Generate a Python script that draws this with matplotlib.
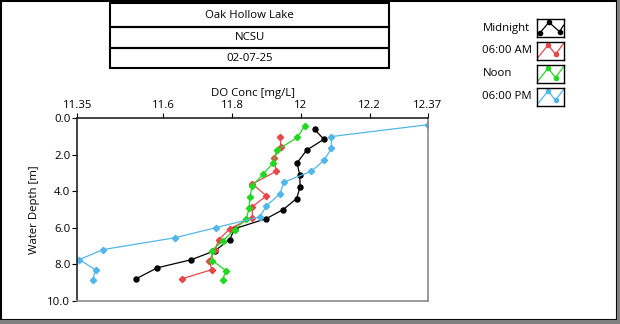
import matplotlib.pyplot as plt
from matplotlib.patches import Rectangle
from matplotlib.lines import Line2D

plt.rcParams['font.family'] = ['Open Sans', 'DejaVu Sans']

# dissolved oxygen profiles, depth in m and DO in mg/L
midnight_depth = [0.6, 1.15, 1.75, 2.45, 3.1, 3.75, 4.4, 5.0, 5.5, 6.05, 6.65, 7.25, 7.75, 8.2, 8.8]
midnight_do = [12.04, 12.067, 12.017, 11.989, 11.997, 11.998, 11.988, 11.949, 11.90, 11.808, 11.793, 11.751, 11.682, 11.582, 11.521]

am_depth = [1.0, 1.6, 2.2, 2.9, 3.6, 4.25, 4.85, 5.45, 6.05, 6.65, 7.2, 7.8, 8.3, 8.8]
am_do = [11.94, 11.942, 11.921, 11.929, 11.859, 11.90, 11.859, 11.859, 11.794, 11.762, 11.75, 11.734, 11.741, 11.654]

noon_depth = [0.4, 1.05, 1.75, 2.45, 3.05, 3.7, 4.3, 4.9, 5.5, 6.1, 6.7, 7.25, 7.8, 8.35, 8.85]
noon_do = [12.012, 11.99, 11.93, 11.92, 11.891, 11.859, 11.852, 11.85, 11.842, 11.808, 11.774, 11.742, 11.743, 11.782, 11.773]

pm_depth = [0.35, 1.0, 1.65, 2.3, 2.9, 3.5, 4.15, 4.8, 5.4, 6.0, 6.55, 7.2, 7.75, 8.3, 8.85]
pm_do = [12.37, 12.089, 12.089, 12.068, 12.031, 11.951, 11.939, 11.90, 11.881, 11.752, 11.634, 11.424, 11.356, 11.403, 11.395]

series_names = ['Midnight', '06:00 AM', 'Noon', '06:00 PM']
series_colors = ['black', '#e8474a', '#22d822', '#52b7e8']
series_markers = ['o', 'D', 'D', 'D']

x_ticks = [11.35, 11.6, 11.8, 12, 12.2, 12.37]
x_tick_labels = ['11.35', '11.6', '11.8', '12', '12.2', '12.37']
y_ticks = [0, 2, 4, 6, 8, 10]

title_rows = ['Oak Hollow Lake', 'NCSU', '02-07-25']

FS = 8.2
W, H = 620, 324
fig = plt.figure(figsize=(6.2, 3.24), dpi=100)


def fx(px):
    return px / W


def fy(py):
    return 1 - py / H


# sunken panel border
fig.add_artist(Line2D([fx(0.5), fx(0.5)], [0, 1], color='black', lw=1.5))
fig.add_artist(Line2D([0, 1], [fy(0.5), fy(0.5)], color='black', lw=1.5))
fig.add_artist(Line2D([fx(616), fx(616)], [fy(319), 1], color='black', lw=0.8))
fig.add_artist(Line2D([fx(0), fx(616)], [fy(319), fy(319)], color='black', lw=0.8))
fig.add_artist(Line2D([fx(618.5), fx(618.5)], [0, 1], color='#808080', lw=3))
fig.add_artist(Line2D([0, 1], [fy(322), fy(322)], color='#808080', lw=3))

# title boxes
row_edges = [3.3, 26.7, 48.3, 68.3]
for i, txt in enumerate(title_rows):
    top, bot = row_edges[i], row_edges[i + 1]
    fig.add_artist(Rectangle((fx(109.5), fy(bot)), fx(389.5) - fx(109.5), fy(top) - fy(bot),
                             fill=False, ec='black', lw=1.5))
    fig.text(fx(249.5), fy((top + bot) / 2), txt, ha='center', va='center', fontsize=FS)

# main plot
ax = fig.add_axes([fx(77.3), fy(300.7), fx(428) - fx(77.3), fy(118.3) - fy(300.7)])
profiles = [(midnight_do, midnight_depth), (am_do, am_depth), (noon_do, noon_depth), (pm_do, pm_depth)]
for (xs, ys), c, m in zip(profiles, series_colors, series_markers):
    ax.plot(xs, ys, color=c, lw=0.9, marker=m, ms=3.6 if m == 'o' else 3.2, mec=c, mfc=c)

ax.set_xlim(11.35, 12.37)
ax.set_ylim(10, 0)
ax.xaxis.tick_top()
ax.xaxis.set_label_position('top')
ax.set_xticks(x_ticks)
ax.set_xticklabels(x_tick_labels)
ax.set_yticks(y_ticks)
ax.set_yticklabels([f'{v:.1f}' for v in y_ticks])
ax.tick_params(labelsize=FS, length=3.5, width=0.8, pad=1.5)
ax.set_xlabel('DO Conc [mg/L]', fontsize=FS, labelpad=3)
ax.set_ylabel('Water Depth [m]', fontsize=FS, labelpad=5)
ax.spines['top'].set_color('#222222')
ax.spines['left'].set_color('#222222')
ax.spines['right'].set_color('#8a8a8a')
ax.spines['bottom'].set_color('#8a8a8a')
for s in ax.spines.values():
    s.set_linewidth(1.2)

# legend with small icon boxes
icon_tops = [19, 41.7, 65, 87.7]
for name, c, m, top in zip(series_names, series_colors, series_markers, icon_tops):
    bot = top + 18
    fig.text(fx(482.5), fy((top + bot) / 2), name, ha='left', va='center', fontsize=FS)
    iax = fig.add_axes([fx(537), fy(bot), fx(563.5) - fx(537), fy(top) - fy(bot)])
    iax.set_xlim(0, 1)
    iax.set_ylim(0, 1)
    iax.set_xticks([])
    iax.set_yticks([])
    for s in iax.spines.values():
        s.set_linewidth(1.0)
    if name == 'Midnight':
        iax.plot([0.12, 0.45, 0.85], [0.25, 0.82, 0.3], color=c, lw=0.9, marker=m, ms=3)
        iax.plot([0.0, 0.12], [0.05, 0.25], color=c, lw=0.9)
        iax.plot([0.85, 1.0], [0.3, 0.65], color=c, lw=0.9)
    else:
        iax.plot([0.0, 0.42, 0.7, 1.0], [0.05, 0.82, 0.3, 0.9], color=c, lw=0.9)
        iax.plot([0.42, 0.7], [0.82, 0.3], ls='none', marker='o', ms=3, color=c)

fig.savefig('out.png', dpi=100)
